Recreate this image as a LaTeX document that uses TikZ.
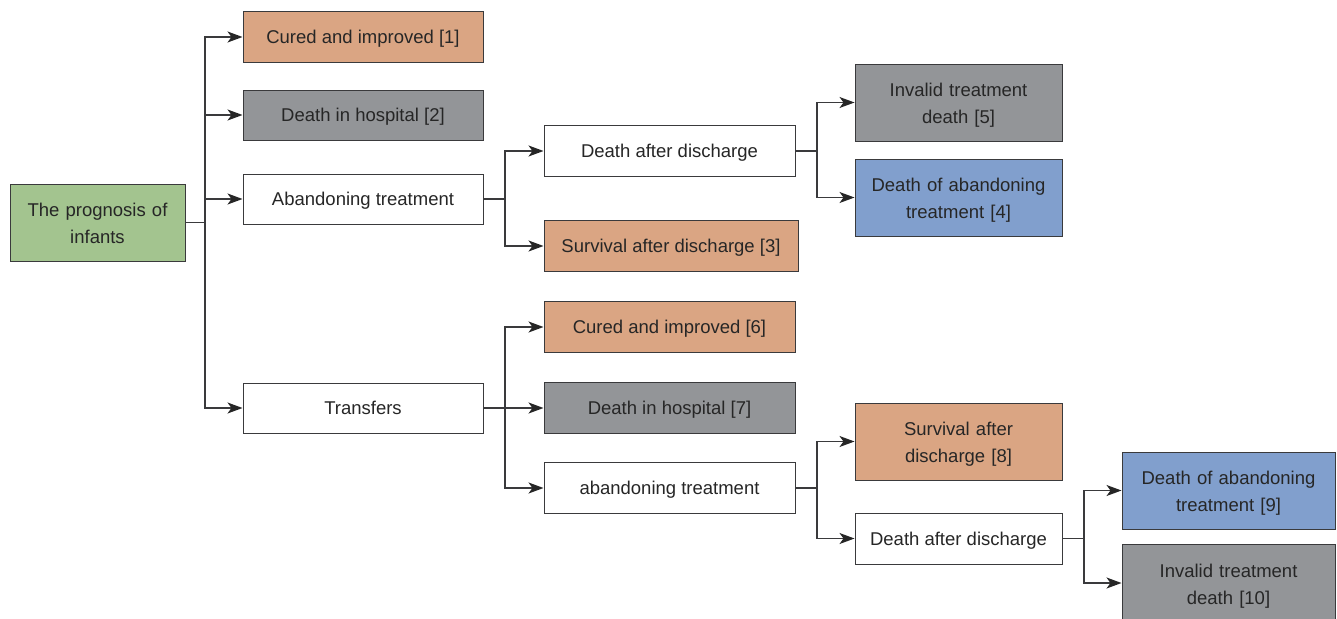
\documentclass[tikz,border=0pt]{standalone}
\usepackage{fontspec}
\setmainfont{Liberation Sans}
\usetikzlibrary{arrows.meta}
\definecolor{rootcolor}{HTML}{A3C48F}
\definecolor{livecolor}{HTML}{DAA583}
\definecolor{deadcolor}{HTML}{939598}
\definecolor{quitcolor}{HTML}{819FCD}
\definecolor{linecolor}{HTML}{3A3A3C}
\newcommand{\boxlw}{1pt}
\newcommand{\arrlw}{1.3pt}

\begin{document}
\begin{tikzpicture}[x=1pt, y=-1pt,
  font=\fontsize{18.5}{27}\selectfont, text=black!85,
  box/.style={draw=linecolor, line width=\boxlw, align=center, inner sep=0pt},
  wide/.style={box, minimum width=240, minimum height=50, text depth=0pt},
  mid/.style={box, minimum width=251, minimum height=51, text depth=0pt},
  tall/.style={box, minimum width=207, minimum height=77, text width=200, text depth=25pt},
  arr/.style={draw=linecolor, line width=\arrlw, -{Stealth[length=15pt, width=11pt, inset=4pt, color=black!85]}},
  stem/.style={draw=linecolor, line width=\arrlw}]
\useasboundingbox (0,0) rectangle (1337,618);
%root
\node[box, fill=rootcolor, minimum width=175, minimum height=77, text width=170, text depth=25pt] (0) at (97.5,222.5) {The prognosis of\\infants};
%first level
\node[wide, fill=livecolor] (1) at (363,37) {Cured and improved [1]};
\node[wide, fill=deadcolor] (2) at (363,115) {Death in hospital [2]};
\node[wide, fill=white] (a) at (363,199) {Abandoning treatment};
\node[wide, fill=white] (t) at (363,408) {Transfers};
%abandoning
\node[mid, fill=white] (ad) at (669.5,151) {Death after discharge};
\node[mid, fill=livecolor, minimum width=254] (3) at (671,246) {Survival after discharge [3]};
\node[tall, fill=deadcolor] (5) at (958.5,102.5) {Invalid treatment\\death [5]};
\node[tall, fill=quitcolor] (4) at (958.5,197.5) {Death of abandoning\\treatment [4]};
%transfers
\node[mid, fill=livecolor] (6) at (669.5,327) {Cured and improved [6]};
\node[mid, fill=deadcolor] (7) at (669.5,408) {Death in hospital [7]};
\node[mid, fill=white] (ta) at (669.5,488) {abandoning treatment};
\node[tall, fill=livecolor] (8) at (958.5,441.5) {Survival after\\discharge [8]};
\node[mid, fill=white, minimum width=207] (td) at (958.5,538.5) {Death after discharge};
\node[tall, fill=quitcolor, minimum width=213] (9) at (1228.5,490.5) {Death of abandoning\\treatment [9]};
\node[tall, fill=deadcolor, minimum width=213] (10) at (1228.5,583) {Invalid treatment\\death [10]};
%splits
\coordinate (s0) at (205,222.5);
\coordinate (sa) at (505,199);
\coordinate (st) at (505,408);
\coordinate (sad) at (817,151);
\coordinate (sta) at (817,488);
\coordinate (std) at (1084,538.5);
%connectors
\draw[stem] (0) -- (s0);
\draw[arr] (s0) |- (1);
\draw[arr] (s0) |- (2);
\draw[arr] (s0) |- (a);
\draw[arr] (s0) |- (t);
\draw[stem] (a) -- (sa);
\draw[arr] (sa) |- (ad);
\draw[arr] (sa) |- (3);
\draw[stem] (ad) -- (sad);
\draw[arr] (sad) |- (5);
\draw[arr] (sad) |- (4);
\draw[arr] (t) -- (7);
\draw[arr] (st) |- (6);
\draw[arr] (st) |- (ta);
\draw[stem] (ta) -- (sta);
\draw[arr] (sta) |- (8);
\draw[arr] (sta) |- (td);
\draw[stem] (td) -- (std);
\draw[arr] (std) |- (9);
\draw[arr] (std) |- (10);
\end{tikzpicture}
\end{document}
